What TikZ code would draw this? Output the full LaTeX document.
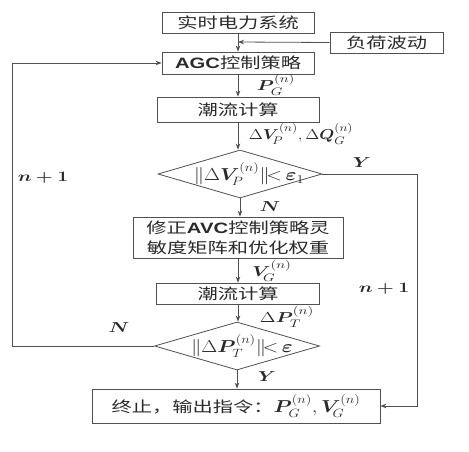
\documentclass[tikz,border=0pt]{standalone}
\usepackage{amsmath,bm,graphicx}
\usepackage{fontspec}
\setmainfont{Liberation Serif}
\newfontfamily\cjk{Noto Sans CJK SC}
\newfontfamily\lat{Liberation Sans}
\usetikzlibrary{shapes.geometric,arrows.meta}
\definecolor{lc}{HTML}{505050}
\definecolor{tc}{HTML}{2A2A2A}
\newcommand\wt[1]{\scalebox{1.35}[1]{#1}}
\newcommand\wm[1]{\scalebox{1.2}[1]{#1}}
\tikzset{
 box/.style={draw=lc, line width=0.8pt, rectangle, inner sep=0pt, text=tc, font=\cjk\fontsize{15}{20}\selectfont},
 dia/.style={draw=lc, line width=0.8pt, diamond, inner sep=0pt},
 arr/.style={draw=lc, line width=0.8pt, -{Stealth[length=6pt,width=4.5pt]}},
 lab/.style={inner sep=0pt, text=tc, font=\fontsize{15}{18}\selectfont},
 big/.style={inner sep=0pt, text=tc, font=\fontsize{17}{20}\selectfont},
}
\begin{document}
\begin{tikzpicture}[x=1pt,y=-1pt]
\useasboundingbox[fill=white] (0,0) rectangle (469,451);
\node[box, minimum width=152, minimum height=21] (sys) at (238,22.5) {\wt{实时电力系统}};
\node[box, minimum width=113, minimum height=21] (load) at (386.5,42.5) {\wt{负荷波动}};
\node[box, minimum width=152, minimum height=22] (agc) at (238,63) {\wt{{\lat\bfseries AGC}控制策略}};
\node[box, minimum width=162, minimum height=25] (flow1) at (238,109.5) {\wt{潮流计算}};
\node[dia, minimum width=164, minimum height=48] (dia1) at (240,174) {};
\node[big] (t1) at (249,174) {\wm{$\|\Delta\bm{V}^{(n)}_{\!P}\|\!{<}\,\bm{\varepsilon}_1$}};
\node[box, minimum width=210, minimum height=41, align=center] (fix) at (238,237.5) {\wt{修正{\lat\bfseries AVC}控制策略灵}\\\wt{敏度矩阵和优化权重}};
\node[box, minimum width=163, minimum height=21] (flow2) at (238,293.5) {\wt{潮流计算}};
\node[dia, minimum width=165, minimum height=48] (dia2) at (237,346) {};
\node[big] (t2) at (242,346) {\wm{$\|\Delta\bm{P}^{(n)}_{T}\|\!{<}\,\bm{\varepsilon}$}};
\node[box, minimum width=288, minimum height=34] (fin) at (236,406) {\wt{终止，输出指令：}\wm{\fontsize{17}{20}\selectfont$\bm{P}^{(n)}_{G},\bm{V}^{(n)}_{\!G}$}};
\coordinate (J) at (238,42);
\coordinate (L) at (12,346);
\coordinate (R) at (417,174);
\draw[arr] (sys) -- (agc);
\draw[arr] (load.west) -- (J);
\draw[arr] (agc) -- (flow1);
\draw[arr] (flow1) -- (flow1|-dia1.north);
\draw[arr] (dia1.south) -- (dia1.south|-fix.north);
\draw[arr] (fix) -- (flow2);
\draw[arr] (flow2.south) -- (flow2.south|-dia2.north);
\draw[arr] (dia2.south) -- (dia2.south|-fin.north);
\draw[arr] (dia2.west) -- (L) |- (agc.west);
\draw[arr] (dia1.east) -- (R) |- (fin.east);
\node[lab] (l1) at (276,85) {\wt{$\bm{P}^{(n)}_{G}$}};
\node[lab] (l2) at (301,134) {\wm{$\Delta\bm{V}^{(n)}_{\!P},\Delta\bm{Q}^{(n)}_{G}$}};
\node[lab] (y1) at (362,163) {\wt{$\bm{Y}$}};
\node[lab] (n1) at (43,178) {\wt{$\bm{n+1}$}};
\node[lab] (nn1) at (270,207) {\wt{$\bm{N}$}};
\node[lab] (l3) at (272,271) {\wt{$\bm{V}^{(n)}_{\!G}$}};
\node[lab] (n2) at (384,289) {\wt{$\bm{n+1}$}};
\node[lab] (l4) at (287,317) {\wt{$\Delta\bm{P}^{(n)}_{T}$}};
\node[lab] (nn2) at (119,328) {\wt{$\bm{N}$}};
\node[lab] (y2) at (267,377) {\wt{$\bm{Y}$}};
\end{tikzpicture}
\end{document}
